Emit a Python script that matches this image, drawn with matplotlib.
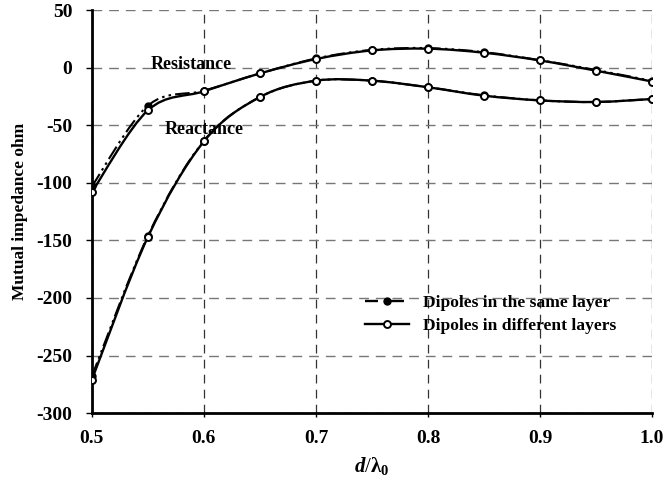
import matplotlib
matplotlib.use('Agg')
import matplotlib.pyplot as plt
from matplotlib.path import Path
from matplotlib.patches import PathPatch
from matplotlib.lines import Line2D
import numpy as np

plt.rcParams['font.family'] = ['Liberation Serif', 'DejaVu Serif']
plt.rcParams['font.weight'] = 'bold'
plt.rcParams['axes.unicode_minus'] = False
plt.rcParams['mathtext.fontset'] = 'custom'
plt.rcParams['mathtext.rm'] = 'Liberation Serif:bold'
plt.rcParams['mathtext.it'] = 'Liberation Serif:italic:bold'
plt.rcParams['mathtext.bf'] = 'Liberation Serif:bold'

# d / lambda0
d_ratio = [0.5, 0.55, 0.6, 0.65, 0.7, 0.75, 0.8, 0.85, 0.9, 0.95, 1.0]

# dipoles in different layers
res_diff = [-108, -37, -20.5, -5, 7.5, 15, 16.5, 13, 6.3, -2.6, -12]
rea_diff = [-271, -147, -64, -25.5, -11.3, -11.3, -17, -24.3, -28.4, -29.8, -27.2]

# dipoles in the same layer
res_same = [-103, -33, -20, -5, 8, 15.5, 17, 13.5, 6.5, -2, -11.5]
rea_same = [-268, -146, -63.5, -25.5, -11.3, -11.3, -17, -24, -28.4, -29.8, -27.2]


def smooth_path(x, y):
    # bezier segments, excel style smoothing
    x = np.asarray(x, float)
    y = np.asarray(y, float)
    n = len(x)
    verts = [(x[0], y[0])]
    codes = [Path.MOVETO]
    for i in range(n - 1):
        i0 = max(i - 1, 0)
        i3 = min(i + 2, n - 1)
        c1 = (x[i] + (x[i + 1] - x[i0]) / 6, y[i] + (y[i + 1] - y[i0]) / 6)
        c2 = (x[i + 1] - (x[i3] - x[i]) / 6, y[i + 1] - (y[i3] - y[i]) / 6)
        verts += [c1, c2, (x[i + 1], y[i + 1])]
        codes += [Path.CURVE4] * 3
    return Path(verts, codes)


same_ls = (0, (7, 2, 1.2, 2, 1.2, 2))

fig = plt.figure(figsize=(6.66, 4.82), dpi=100)
ax = fig.add_axes([0.138, 0.143, 0.841, 0.836])

for yy in [res_same, rea_same]:
    ax.add_patch(PathPatch(smooth_path(d_ratio, yy), fill=False, lw=1.5,
                           ls=same_ls, edgecolor='black', zorder=3))
    ax.plot(d_ratio, yy, ls='none', marker='o', ms=5, color='black', zorder=4)

for yy in [res_diff, rea_diff]:
    ax.add_patch(PathPatch(smooth_path(d_ratio, yy), fill=False, lw=1.7,
                           edgecolor='black', zorder=5))
    ax.plot(d_ratio, yy, ls='none', marker='o', ms=5, mfc='white',
            mec='black', mew=1.4, zorder=6)

ax.set_xlim(0.5, 1.0)
ax.set_ylim(-300, 50)
ax.set_xticks([0.5, 0.6, 0.7, 0.8, 0.9, 1.0])
ax.set_xticklabels(['0.5', '0.6', '0.7', '0.8', '0.9', '1.0'])
ax.set_yticks(range(-300, 51, 50))
ax.tick_params(axis='y', direction='out', length=4, width=1, labelsize=14, pad=10)
ax.tick_params(axis='x', direction='out', length=3, width=1, labelsize=14, pad=9)
for lab in ax.get_xticklabels() + ax.get_yticklabels():
    lab.set_fontweight('bold')

ax.yaxis.grid(True, color='#777777', ls=(0, (7, 5)), lw=1)
ax.xaxis.grid(True, color='#333333', ls=(0, (7, 5)), lw=0.9)
ax.set_axisbelow(True)
for s in ['top', 'right']:
    ax.spines[s].set_visible(False)
ax.spines['left'].set_linewidth(2)
ax.spines['bottom'].set_linewidth(2)

ax.set_ylabel('Mutual impedance ohm', fontsize=12.5, fontweight='bold', labelpad=6)
ax.set_xlabel(r'$\mathit{d}$/$\mathbf{\lambda}_\mathbf{0}$', fontsize=15, labelpad=6)

ax.text(0.589, 3, 'Resistance', fontsize=13, fontweight='bold', ha='center', va='center')
ax.text(0.6, -54, 'Reactance', fontsize=13, fontweight='bold', ha='center', va='center')

handles = [
    Line2D([], [], color='black', lw=1.7, ls=(0, (5.5, 5.5)), marker='o', ms=5),
    Line2D([], [], color='black', lw=1.7, marker='o', ms=5, mfc='white', mew=1.4),
]
ax.legend(handles, ['Dipoles in the same layer', 'Dipoles in different layers'],
          loc='center left', bbox_to_anchor=(0.46, 0.245), frameon=False,
          prop={'weight': 'bold', 'size': 12.6},
          handlelength=2.5, handletextpad=0.8, labelspacing=0.35)

fig.savefig('out.png', dpi=100)
